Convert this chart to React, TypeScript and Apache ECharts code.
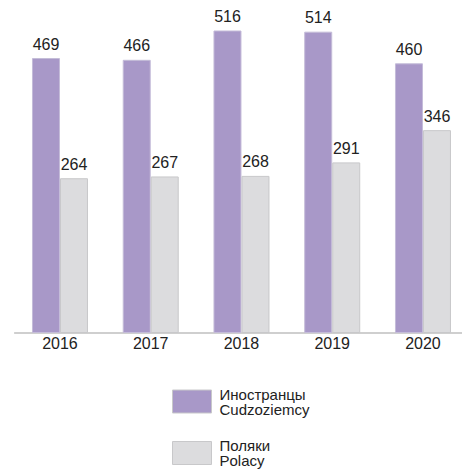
import React, { useEffect, useRef } from "react";
import * as echarts from "echarts";

const years = ["2016", "2017", "2018", "2019", "2020"];
const foreigners = [469, 466, 516, 514, 460];
const poles = [264, 267, 268, 291, 346];
const seriesNames = ["Иностранцы\nCudzoziemcy", "Поляки\nPolacy"];

export default function App() {
  const ref = useRef<HTMLDivElement>(null);
  useEffect(() => {
    if (!ref.current) return;
    const chart = echarts.init(ref.current, null, { renderer: "svg" });
    const font = "'Liberation Sans', Arial, sans-serif";
    const label = {
      show: true,
      position: "top" as const,
      distance: 6,
      color: "#222",
      fontSize: 16,
      fontFamily: font,
    };
    chart.setOption({
      animation: false,
      grid: {
        left: 14.6,
        width: 453.75,
        top: 0,
        bottom: 136,
        containLabel: false,
        outerBoundsMode: "none",
      },
      xAxis: {
        type: "category",
        data: years,
        axisLine: { lineStyle: { color: "#c0c0c0", width: 1.5 } },
        axisTick: { show: false },
        axisLabel: { color: "#222", fontSize: 16, fontFamily: font, margin: 2 },
      },
      yAxis: {
        type: "value",
        min: 0,
        max: 568,
        show: false,
        splitLine: { show: false },
      },
      legend: {
        orient: "vertical",
        left: 172,
        top: 386.5,
        height: 200,
        padding: 0,
        itemWidth: 39,
        itemHeight: 23,
        itemGap: 21.5,
        itemStyle: { borderColor: "#c8c8ca", borderWidth: 1 },
        icon: "rect",
        textStyle: {
          color: "#222",
          fontSize: 15,
          lineHeight: 15,
          fontFamily: font,
          padding: [0, 0, 0, 3],
        },
        data: seriesNames,
      },
      series: [
        {
          name: seriesNames[0],
          type: "bar",
          data: foreigners,
          barWidth: 28,
          barGap: "0%",
          itemStyle: { color: "#a898c8", borderColor: "#c4bcd8", borderWidth: 1 },
          label,
        },
        {
          name: seriesNames[1],
          type: "bar",
          data: poles,
          barWidth: 28,
          barGap: "0%",
          itemStyle: { color: "#dcdcde", borderColor: "#c8c8ca", borderWidth: 1 },
          label,
        },
      ],
    });
    return () => chart.dispose();
  }, []);
  return <div ref={ref} style={{ width: 462, height: 469, position: "absolute", left: 0, top: 0 }} />;
}
